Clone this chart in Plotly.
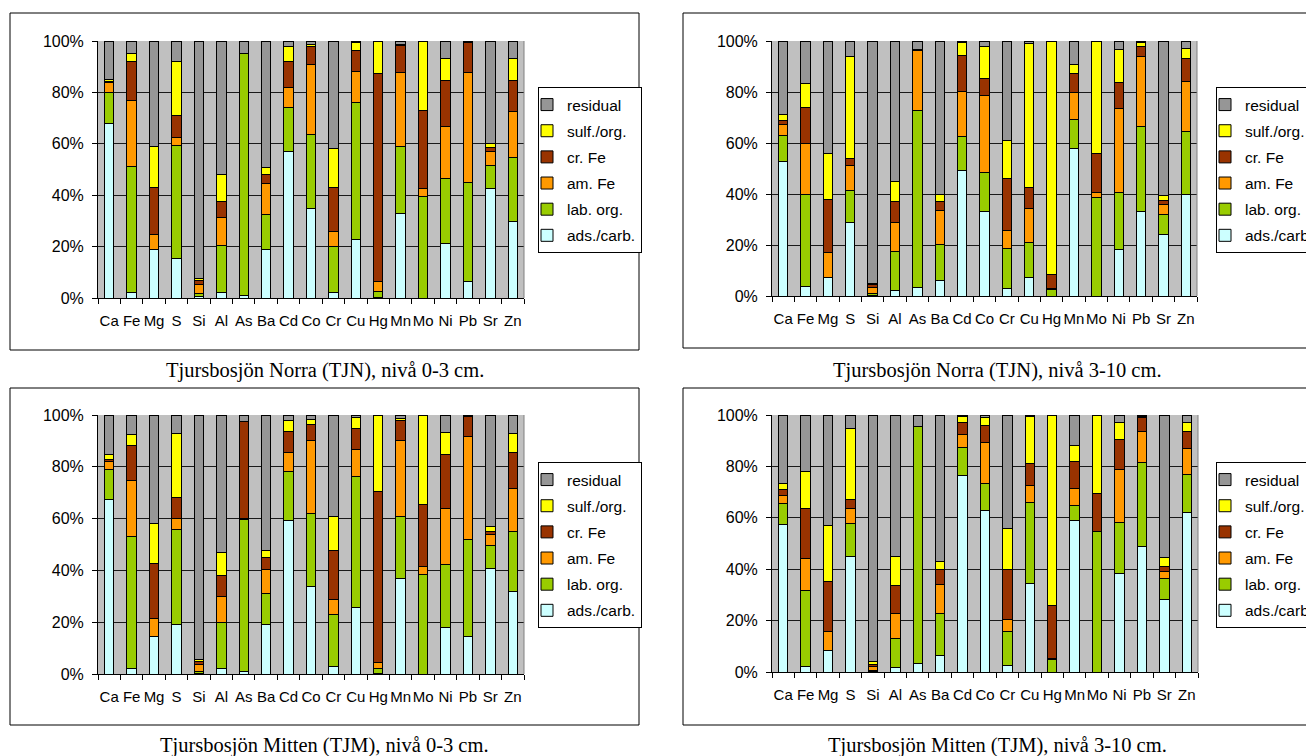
import plotly.graph_objects as go

# ---------------- data ----------------
elements = ["Ca", "Fe", "Mg", "S", "Si", "Al", "As", "Ba", "Cd", "Co",
            "Cr", "Cu", "Hg", "Mn", "Mo", "Ni", "Pb", "Sr", "Zn"]
fractions = ["ads./carb.", "lab. org.", "am. Fe", "cr. Fe", "sulf./org.", "residual"]
colors = ["#CCFFFF", "#99CC00", "#FF9900", "#993300", "#FFFF00", "#969696"]

captions = ["Tjursbosjön Norra (TJN), nivå 0-3 cm.",
            "Tjursbosjön Norra (TJN), nivå 3-10 cm.",
            "Tjursbosjön Mitten (TJM), nivå 0-3 cm.",
            "Tjursbosjön Mitten (TJM), nivå 3-10 cm."]

# TJN 0-3 cm
tjn03_ads = [68.0, 2.1, 18.9, 15.2, 0.4, 2.1, 0.8, 18.9, 57.1, 34.8, 2.3, 22.7, 0.3, 32.9, 0.0, 21.3, 6.5, 42.5, 29.8]
tjn03_lab = [12.0, 49.0, 0.0, 44.1, 1.4, 18.4, 94.5, 13.5, 17.0, 29.0, 17.8, 53.4, 2.4, 26.0, 39.4, 25.3, 38.5, 9.1, 24.9]
tjn03_am = [3.8, 25.6, 5.7, 3.3, 3.5, 11.0, 0.0, 12.0, 8.0, 27.0, 5.6, 12.1, 3.9, 28.8, 3.3, 20.3, 42.9, 5.6, 17.9]
tjn03_cr = [0.5, 15.5, 18.5, 8.3, 1.6, 5.9, 0.0, 3.6, 10.1, 7.1, 17.2, 8.0, 80.7, 10.4, 30.3, 17.8, 11.5, 1.2, 12.1]
tjn03_sulf = [0.9, 2.9, 15.7, 21.3, 0.5, 10.6, 0.0, 2.7, 5.7, 0.8, 15.2, 3.2, 12.7, 0.6, 27.0, 8.6, 0.2, 1.9, 8.6]
tjn03_res = [14.8, 4.9, 41.2, 7.8, 92.6, 52.0, 4.7, 49.3, 2.1, 1.3, 41.9, 0.6, 0.0, 1.3, 0.0, 6.7, 0.4, 39.7, 6.7]

# TJN 3-10 cm
tjn310_ads = [52.9, 3.9, 7.4, 28.9, 0.2, 2.0, 3.5, 6.0, 49.3, 33.0, 2.9, 7.4, 0.0, 58.0, 0.0, 18.4, 33.0, 24.3, 39.7]
tjn310_lab = [10.0, 35.8, 0.0, 12.6, 0.8, 15.4, 69.2, 14.2, 13.1, 15.6, 15.8, 13.7, 2.6, 11.1, 38.5, 22.1, 33.4, 7.7, 24.8]
tjn310_am = [4.5, 20.1, 9.7, 9.7, 2.4, 11.5, 23.6, 13.3, 17.8, 30.0, 7.0, 13.2, 0.4, 10.7, 2.2, 33.1, 27.6, 3.8, 19.8]
tjn310_cr = [1.3, 14.2, 20.9, 2.7, 1.3, 8.0, 0.2, 3.7, 14.1, 6.6, 20.5, 8.4, 5.6, 7.5, 15.2, 10.2, 3.9, 1.8, 8.7]
tjn310_sulf = [2.3, 9.3, 17.9, 40.1, 0.3, 7.9, 0.0, 2.6, 5.0, 12.8, 14.8, 56.3, 91.4, 3.6, 44.1, 12.8, 1.4, 1.8, 4.1]
tjn310_res = [29.0, 16.7, 44.1, 6.0, 95.0, 55.2, 3.5, 60.2, 0.7, 2.0, 39.0, 1.0, 0.0, 9.1, 0.0, 3.4, 0.7, 60.6, 2.9]

# TJM 0-3 cm
tjm03_ads = [67.4, 2.2, 14.5, 19.0, 0.3, 2.1, 1.0, 19.2, 59.2, 33.8, 3.0, 25.7, 0.3, 36.9, 0.0, 18.1, 14.5, 40.9, 31.9]
tjm03_lab = [11.6, 51.0, 0.0, 36.7, 0.7, 17.6, 58.7, 11.8, 18.9, 28.0, 19.8, 50.4, 2.0, 24.0, 38.5, 24.0, 37.6, 8.8, 23.3]
tjm03_am = [3.0, 21.4, 7.1, 4.5, 2.6, 10.3, 0.3, 9.5, 7.6, 28.4, 5.9, 10.5, 2.2, 29.3, 3.1, 21.7, 39.7, 4.0, 16.4]
tjm03_cr = [1.0, 13.7, 20.9, 8.1, 1.2, 8.0, 37.3, 4.5, 8.0, 6.1, 18.9, 8.3, 66.0, 7.6, 23.8, 20.9, 7.7, 1.4, 14.1]
tjm03_sulf = [1.7, 4.2, 15.8, 24.6, 0.7, 9.1, 0.0, 2.7, 4.2, 2.0, 13.1, 4.3, 29.5, 0.7, 34.6, 8.5, 0.2, 1.9, 7.2]
tjm03_res = [15.3, 7.5, 41.7, 7.1, 94.5, 52.9, 2.7, 52.3, 2.1, 1.7, 39.3, 0.8, 0.0, 1.5, 0.0, 6.8, 0.3, 43.0, 7.1]

# TJM 3-10 cm
tjm310_ads = [57.3, 2.2, 8.4, 45.0, 0.3, 1.8, 3.4, 6.4, 76.5, 62.8, 2.5, 34.4, 0.0, 59.1, 0.0, 38.5, 48.8, 28.4, 61.9]
tjm310_lab = [8.1, 29.6, 0.0, 12.6, 0.3, 11.2, 92.1, 16.2, 11.0, 10.7, 13.1, 31.4, 4.8, 5.6, 54.6, 19.7, 32.9, 7.9, 15.1]
tjm310_am = [3.3, 12.4, 7.2, 6.2, 1.6, 9.6, 0.0, 11.6, 5.0, 15.9, 5.0, 6.6, 0.4, 6.6, 0.0, 20.5, 11.7, 2.9, 9.8]
tjm310_cr = [2.2, 19.6, 19.7, 3.3, 0.7, 10.9, 0.0, 5.6, 4.4, 6.4, 19.3, 8.8, 20.5, 10.8, 14.8, 11.6, 5.6, 1.9, 6.7]
tjm310_sulf = [2.6, 14.2, 21.8, 27.7, 1.0, 11.5, 0.0, 3.1, 2.6, 3.3, 15.9, 18.3, 74.3, 6.2, 30.6, 6.6, 0.5, 3.6, 3.5]
tjm310_res = [26.5, 22.0, 42.9, 5.2, 96.1, 55.0, 4.5, 57.1, 0.5, 0.9, 44.2, 0.5, 0.0, 11.7, 0.0, 3.1, 0.5, 55.3, 3.0]

ytick_vals = [0, 20, 40, 60, 80, 100]
ytick_text = ["0%", "20%", "40%", "60%", "80%", "100%"]

panels = [
    [tjn03_ads, tjn03_lab, tjn03_am, tjn03_cr, tjn03_sulf, tjn03_res],
    [tjn310_ads, tjn310_lab, tjn310_am, tjn310_cr, tjn310_sulf, tjn310_res],
    [tjm03_ads, tjm03_lab, tjm03_am, tjm03_cr, tjm03_sulf, tjm03_res],
    [tjm310_ads, tjm310_lab, tjm310_am, tjm310_cr, tjm310_sulf, tjm310_res],
]

# ---------------- layout geometry (pixels) ----------------
W, H = 1306, 756
px = lambda v: v / W
py = lambda v: 1 - v / H

plot_boxes = [  # (x0, x1, ytop, ybottom) of plot areas
    (98, 524, 41, 298),
    (772, 1197, 41, 296),
    (98, 524, 415, 674),
    (772, 1198, 415, 672),
]
outer_boxes = [
    (10, 639, 13, 350),
    (683, 1340, 13, 348),
    (10, 639, 388, 725),
    (683, 1340, 388, 725),
]
legend_pos = [(538, 87), (1216, 87), (538, 462), (1216, 462)]
caption_pos = [(324.5, 370), (997, 370), (324.5, 745), (997, 745)]

FONT = "Liberation Sans, Arial, sans-serif"

fig = go.Figure()
layout = dict(
    width=W, height=H,
    margin=dict(l=0, r=0, t=0, b=0, autoexpand=False),
    paper_bgcolor="white",
    barmode="stack", barnorm="percent", bargap=0.58,
    font=dict(family=FONT, size=15, color="black"),
    showlegend=True,
    shapes=[], annotations=[],
)

for i, series in enumerate(panels):
    k = "" if i == 0 else str(i + 1)
    xa, ya, lg = "x" + k, "y" + k, "legend" + k
    for j, (frac, col) in enumerate(zip(fractions, colors)):
        fig.add_trace(go.Bar(
            x=elements, y=series[j], name=frac,
            marker=dict(color=col, line=dict(color="black", width=1)),
            xaxis=xa, yaxis=ya, legend=lg, legendgroup=f"p{i}_{j}",
            legendrank=len(fractions) - j,
            hovertemplate="%{x}: %{y:.1f}%<extra>" + frac + "</extra>",
        ))
    x0, x1, yt, yb = plot_boxes[i]
    layout["xaxis" + k] = dict(
        domain=[px(x0), px(x1)], anchor=ya, type="category",
        showline=True, linecolor="black", linewidth=1,
        ticks="outside", tickson="boundaries", ticklen=5, tickcolor="black",
        showgrid=False, tickfont=dict(size=15), tickangle=0,
        ticklabelstandoff=9,
    )
    layout["yaxis" + k] = dict(
        domain=[py(yb), py(yt)], anchor=xa, range=[0, 100],
        tickvals=ytick_vals, ticktext=ytick_text,
        showline=True, linecolor="black", linewidth=1,
        ticks="outside", ticklen=5, tickcolor="black",
        showgrid=True, gridcolor="#1a1a1a", gridwidth=1, zeroline=False,
        tickfont=dict(size=16), ticklabelstandoff=5,
    )
    lx, ly = legend_pos[i]
    layout[lg] = dict(
        x=px(lx), y=py(ly), xanchor="left", yanchor="top",
        bgcolor="white", bordercolor="black", borderwidth=1,
        font=dict(size=15.5, family=FONT), traceorder="grouped",
        tracegroupgap=3, itemwidth=30, indentation=-12,
    )
    # right border of plot area
    layout["shapes"].append(dict(
        type="line", xref=xa + " domain", yref=ya + " domain",
        x0=1, x1=1, y0=0, y1=1, line=dict(color="#808080", width=1)))
    # outer chart box
    bx0, bx1, byt, byb = outer_boxes[i]
    layout["shapes"].append(dict(
        type="rect", xref="paper", yref="paper",
        x0=px(bx0), x1=px(bx1), y0=py(byb), y1=py(byt),
        line=dict(color="black", width=1)))
    cx, cy = caption_pos[i]
    layout["annotations"].append(dict(
        text=captions[i], xref="paper", yref="paper", x=px(cx), y=py(cy),
        xanchor="center", yanchor="middle", showarrow=False,
        font=dict(family="Liberation Serif, Times New Roman, serif", size=20.5, color="black")))

layout["plot_bgcolor"] = "#C0C0C0"
fig.update_layout(**layout)
fig.write_html("out.html", config={"displayModeBar": False},
               post_script="document.body.style.margin='0';")
